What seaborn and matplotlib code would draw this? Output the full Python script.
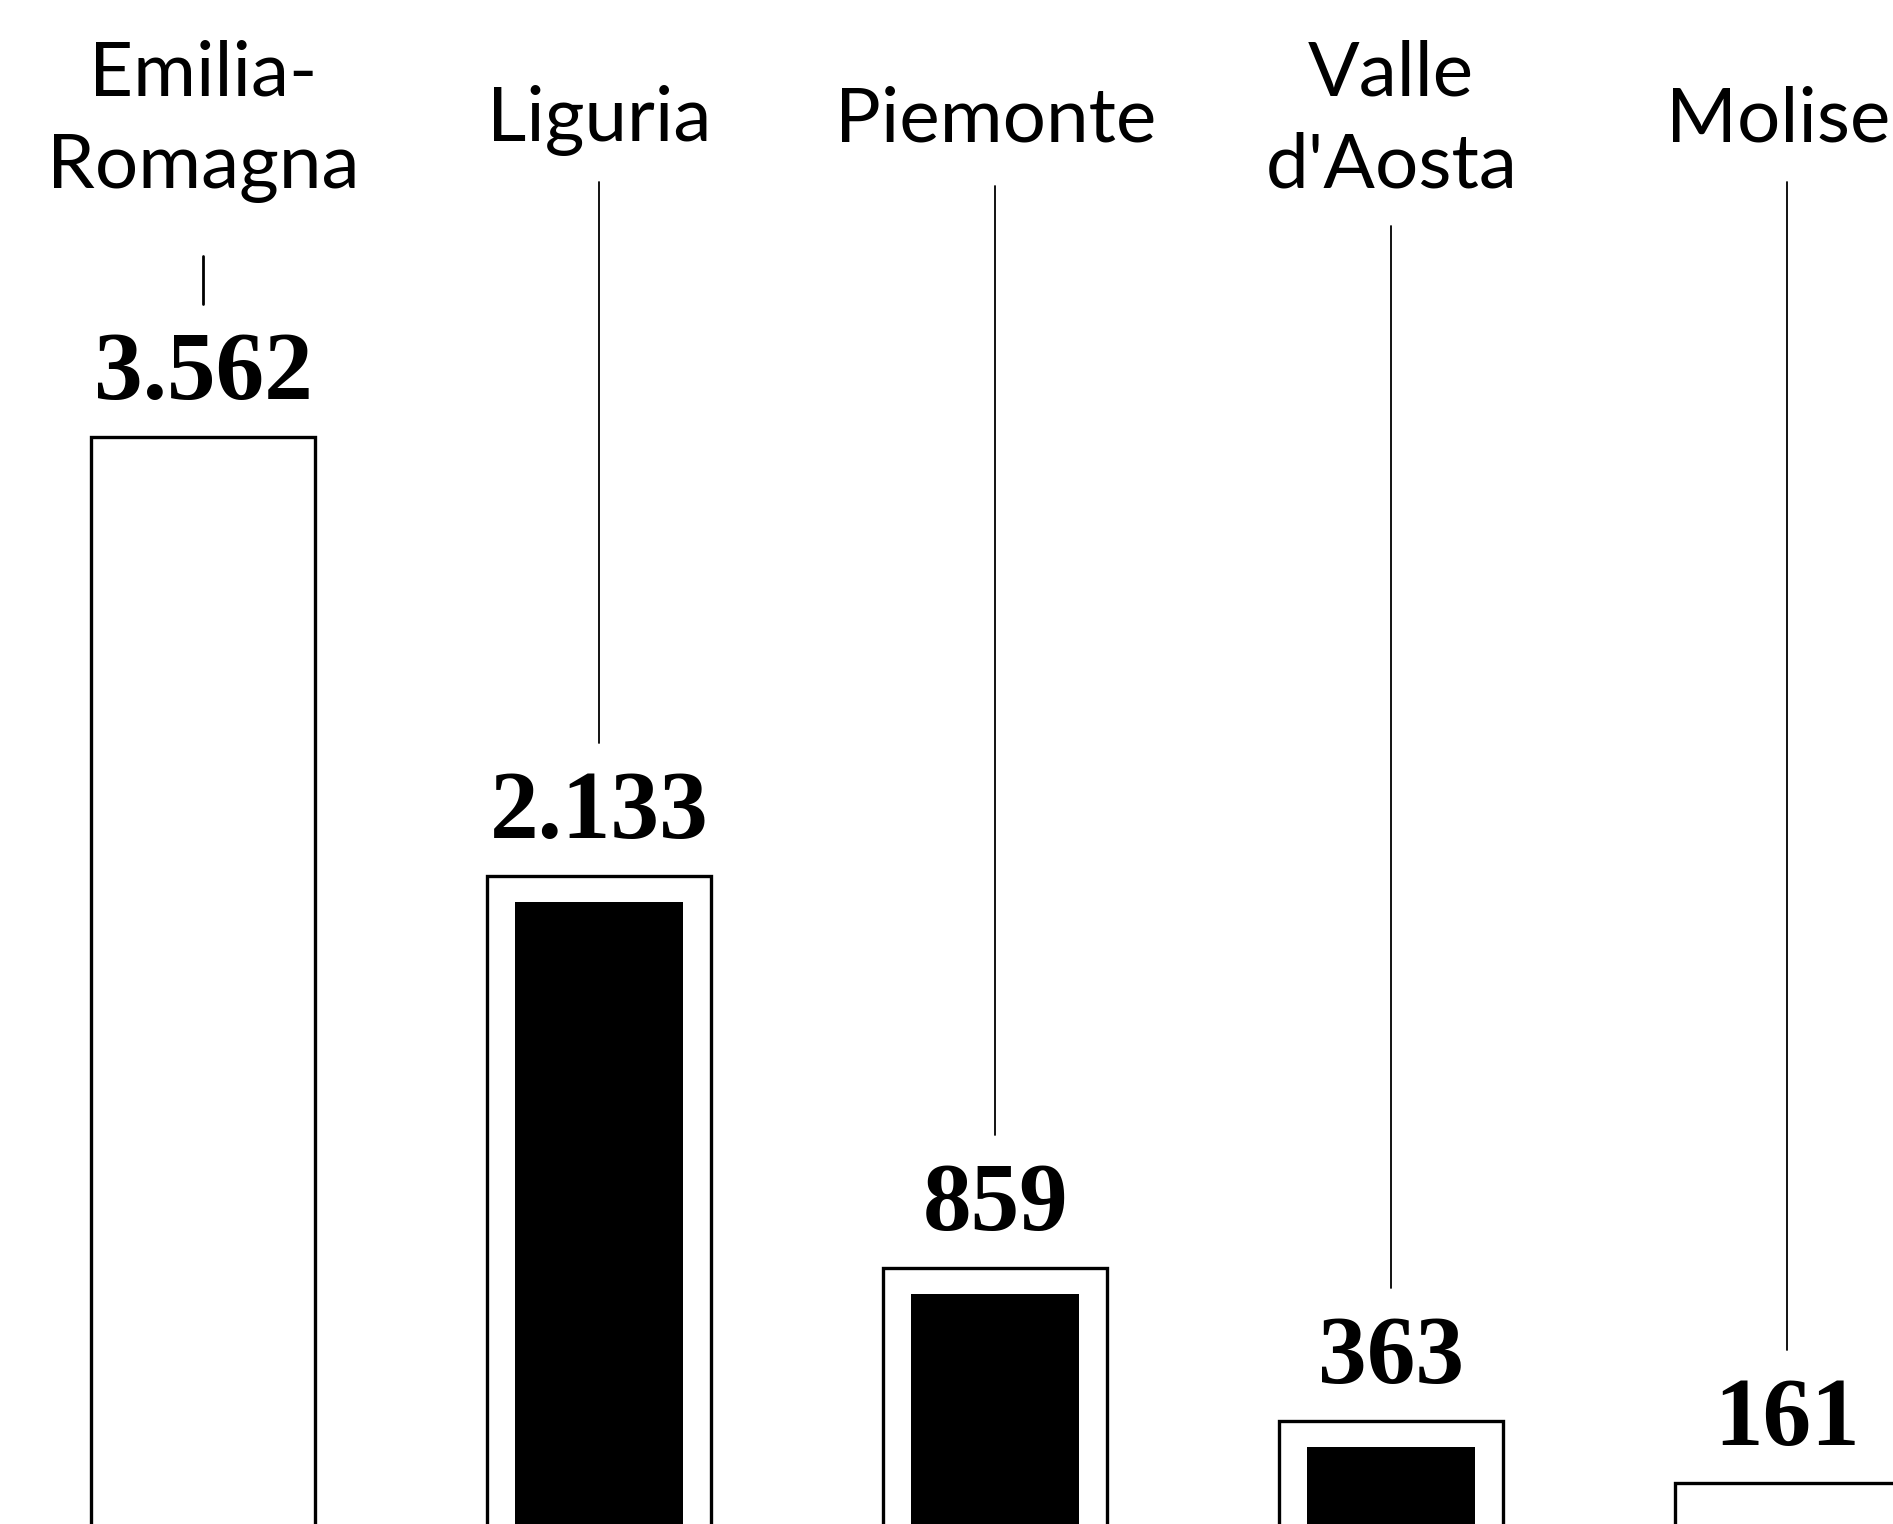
import numpy as np
import pandas as pd
import matplotlib
matplotlib.use("Agg")
import matplotlib.pyplot as plt
import seaborn as sns

# ---- data ----
regions = ["Emilia-Romagna", "Liguria", "Piemonte", "Valle d'Aosta", "Molise"]
label_lines = ["Emilia-\nRomagna", "Liguria", "Piemonte", "Valle\nd'Aosta", "Molise"]
values = [3562, 2133, 859, 363, 161]
value_labels = ["3.562", "2.133", "859", "363", "161"]
filled = [False, True, True, True, False]

sns.set_theme(style="white")
plt.rcParams["font.family"] = ["Lato", "DejaVu Sans"]

W, H, DPI = 1893, 1524, 100
XLIM = (-0.513, 4.267)
YLIM = (27.6, 4982)
fig = plt.figure(figsize=(W / DPI, H / DPI), dpi=DPI, facecolor="white")
ax = fig.add_axes([0, 0, 1, 1])

df = pd.DataFrame({"region": regions, "value": values, "filled": filled})

sns.barplot(data=df, x="region", y="value", order=regions, color="white",
            saturation=1, edgecolor="black", linewidth=2.4, width=0.565,
            errorbar=None, ax=ax)

ax.set_xlim(*XLIM)
ax.set_ylim(*YLIM)
ax.axis("off")

# pixel scale of the value axis
px_per_unit = H / (YLIM[1] - YLIM[0])
inset_units = 26 / px_per_unit

inner = df[df["filled"]].copy()
inner["value"] = inner["value"] - inset_units
sns.barplot(data=inner, x="region", y="value", order=regions, color="black",
            saturation=1, linewidth=0, width=0.425, errorbar=None, ax=ax)
ax.set_xlim(*XLIM)
ax.set_ylim(*YLIM)
ax.axis("off")

# value labels
for i, (v, lab) in enumerate(zip(values, value_labels)):
    ax.annotate(lab, xy=(i, v), xytext=(0, 38), textcoords="offset pixels",
                ha="center", va="baseline", fontsize=70, fontweight="bold",
                family=["Liberation Serif", "DejaVu Serif"], color="black")

# category labels (top, figure pixels from top)
line_step = 93
center_baseline = 141.5
leader_gap = [68, 40, 44, 38, 40]
fig.canvas.draw()
renderer = fig.canvas.get_renderer()
for i, txt in enumerate(label_lines):
    xpix = ax.transData.transform((i, 0))[0]
    lines = txt.split("\n")
    n = len(lines)
    last_base = 0
    for k, ln in enumerate(lines):
        base = center_baseline + (k - (n - 1) / 2) * line_step
        last_base = base
        t = fig.text(xpix / W, 1 - base / H, ln, ha="center", va="baseline",
                     fontsize=55, fontweight="normal", color="black",
                     family=["Lato", "DejaVu Sans"])
        bb = t.get_window_extent(renderer)
        if bb.x1 > W - 3:
            t.set_x((xpix - (bb.x1 - (W - 3))) / W)
    # leader line from below the label to above the value label
    top_px = last_base + leader_gap[i]
    bar_top_px = H - ax.transData.transform((i, values[i]))[1]
    bottom_px = bar_top_px - 133
    fig.add_artist(plt.Line2D([xpix / W, xpix / W],
                              [1 - top_px / H, 1 - bottom_px / H],
                              transform=fig.transFigure, color="black",
                              linewidth=1.3 if i else 2.0))

fig.savefig("out.png", dpi=DPI, facecolor="white")
